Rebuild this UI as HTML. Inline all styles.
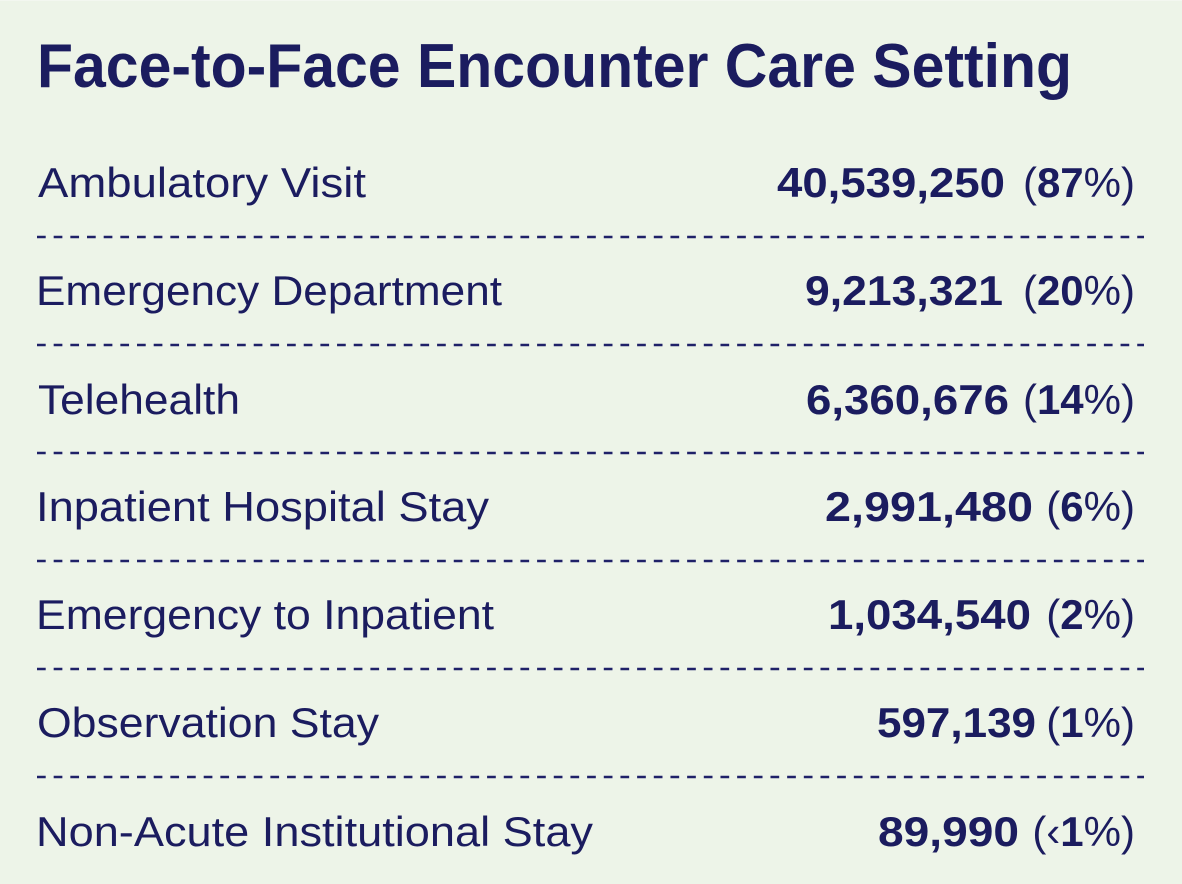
<!DOCTYPE html>
<html>
<head>
<meta charset="utf-8">
<style>
  html, body { margin:0; padding:0; background:#edf4e8; }
  svg { display:block; }
  text { fill:#1b1c5f; font-family:"Liberation Sans", sans-serif; }
  .lab { font-size:42px; font-weight:400; }
  .num { font-size:42px; font-weight:700; }
  .pct { font-size:42px; font-weight:400; }
  .b { font-weight:700; }
</style>
</head>
<body>
<svg width="1182" height="884" viewBox="0 0 1182 884" xmlns="http://www.w3.org/2000/svg">
  <rect x="0" y="0" width="1182" height="884" fill="#edf4e8"/>
  <rect x="0" y="0" width="1182" height="1" fill="#f3f7f0"/>

  <text x="37" y="87" font-size="62" font-weight="700" textLength="1035" lengthAdjust="spacingAndGlyphs">Face-to-Face Encounter Care Setting</text>

  <!-- dashed separators -->
  <g stroke="#1f2168" stroke-width="2.6" stroke-dasharray="8.7 7.97">
    <line x1="37" y1="237" x2="1144" y2="237"/>
    <line x1="37" y1="345" x2="1144" y2="345"/>
    <line x1="37" y1="453" x2="1144" y2="453"/>
    <line x1="37" y1="561" x2="1144" y2="561"/>
    <line x1="37" y1="669" x2="1144" y2="669"/>
    <line x1="37" y1="777" x2="1144" y2="777"/>
  </g>

  <!-- labels -->
  <text class="lab" x="38" y="197" textLength="328" lengthAdjust="spacingAndGlyphs">Ambulatory Visit</text>
  <text class="lab" x="36" y="305" textLength="466" lengthAdjust="spacingAndGlyphs">Emergency Department</text>
  <text class="lab" x="38" y="414" textLength="202" lengthAdjust="spacingAndGlyphs">Telehealth</text>
  <text class="lab" x="36" y="521" textLength="453" lengthAdjust="spacingAndGlyphs">Inpatient Hospital Stay</text>
  <text class="lab" x="36" y="629" textLength="458" lengthAdjust="spacingAndGlyphs">Emergency to Inpatient</text>
  <text class="lab" x="37" y="737" textLength="342" lengthAdjust="spacingAndGlyphs">Observation Stay</text>
  <text class="lab" x="36" y="846" textLength="557" lengthAdjust="spacingAndGlyphs">Non-Acute Institutional Stay</text>

  <!-- numbers -->
  <text class="num" x="777" y="197" textLength="228" lengthAdjust="spacingAndGlyphs">40,539,250</text>
  <text class="num" x="805" y="305" textLength="198" lengthAdjust="spacingAndGlyphs">9,213,321</text>
  <text class="num" x="806" y="414" textLength="203" lengthAdjust="spacingAndGlyphs">6,360,676</text>
  <text class="num" x="825" y="521" textLength="208" lengthAdjust="spacingAndGlyphs">2,991,480</text>
  <text class="num" x="828" y="629" textLength="203" lengthAdjust="spacingAndGlyphs">1,034,540</text>
  <text class="num" x="877" y="737" textLength="159" lengthAdjust="spacingAndGlyphs">597,139</text>
  <text class="num" x="878" y="846" textLength="141" lengthAdjust="spacingAndGlyphs">89,990</text>

  <!-- percentages -->
  <text class="pct" x="1135" y="197" text-anchor="end">(<tspan class="b">87</tspan>%)</text>
  <text class="pct" x="1135" y="305" text-anchor="end">(<tspan class="b">20</tspan>%)</text>
  <text class="pct" x="1135" y="414" text-anchor="end">(<tspan class="b">14</tspan>%)</text>
  <text class="pct" x="1135" y="521" text-anchor="end">(<tspan class="b">6</tspan>%)</text>
  <text class="pct" x="1135" y="629" text-anchor="end">(<tspan class="b">2</tspan>%)</text>
  <text class="pct" x="1135" y="737" text-anchor="end">(<tspan class="b">1</tspan>%)</text>
  <text class="pct" x="1135" y="846" text-anchor="end">(‹<tspan class="b">1</tspan>%)</text>
</svg>
</body>
</html>
